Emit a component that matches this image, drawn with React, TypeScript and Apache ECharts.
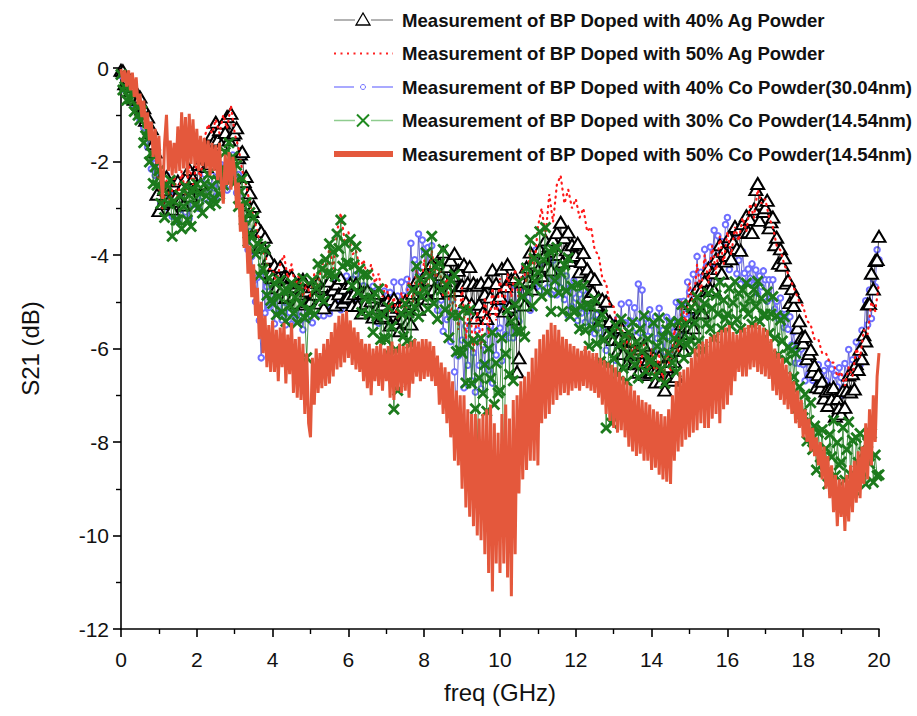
import React, { useEffect, useRef } from "react";
import * as echarts from "echarts";

// Frequency grids of the sweeps (GHz)
const freqFine: number[] = Array.from({ length: 401 }, (_, i) => Math.round(i * 5) / 100); // 0.05 GHz
const freqCoarse: number[] = Array.from({ length: 201 }, (_, i) => Math.round(i * 10) / 100); // 0.1 GHz

// S21 (dB), 40% Ag powder — 0.05 GHz grid, one row per GHz
const ag40: number[] = [
  -0.05, -0.06, -0.34, -0.27, -0.21, -0.49, -0.40, -0.67, -0.51, -0.67, -0.62, -0.88, -0.85, -1.12, -1.05, -1.38, -1.30, -1.62, -1.80, -2.70,
  -3.05, -2.37, -2.90, -2.60, -2.33, -2.86, -2.52, -3.02, -2.51, -2.76, -2.42, -2.85, -2.57, -2.93, -2.37, -2.59, -2.17, -2.74, -2.36, -2.57,
  -2.51, -2.06, -2.48, -2.07, -1.69, -2.11, -1.66, -2.05, -1.43, -1.57, -1.16, -1.54, -1.32, -1.64, -1.18, -1.38, -1.04, -1.54, -0.97, -1.43,
  -1.39, -1.28, -1.92, -1.84, -1.79, -2.43, -2.32, -2.93, -2.67, -3.07, -2.96, -3.47, -3.38, -3.83, -3.50, -3.83, -3.62, -4.25, -4.07, -4.40,
  -4.49, -4.22, -4.70, -4.46, -4.25, -4.73, -4.46, -4.91, -4.49, -4.73, -4.46, -4.87, -4.68, -5.03, -4.60, -4.83, -4.52, -5.05, -4.77, -5.00,
  -4.99, -4.68, -5.12, -4.84, -4.59, -5.03, -4.72, -5.13, -4.67, -4.87, -4.56, -4.95, -4.74, -5.07, -4.62, -4.83, -4.50, -5.01, -4.71, -4.92,
  -4.89, -4.61, -5.08, -4.83, -4.61, -5.08, -4.80, -5.24, -4.81, -5.04, -4.76, -5.17, -4.98, -5.33, -4.90, -5.13, -4.82, -5.35, -5.07, -5.30,
  -5.31, -4.97, -5.50, -5.20, -4.93, -5.46, -5.12, -5.62, -5.11, -5.36, -4.98, -5.44, -5.10, -5.48, -4.82, -5.04, -4.54, -5.16, -4.70, -4.92,
  -4.82, -4.38, -4.94, -4.54, -4.18, -4.74, -4.30, -4.82, -4.18, -4.42, -3.94, -4.55, -4.25, -4.77, -4.11, -4.45, -3.97, -4.76, -4.33, -4.66,
  -4.65, -4.20, -5.00, -4.60, -4.25, -5.05, -4.60, -5.35, -4.65, -5.05, -4.60, -5.22, -4.84, -5.36, -4.58, -4.90, -4.32, -5.14, -4.61, -4.93,
  -4.88, -4.29, -5.20, -4.67, -4.20, -5.11, -4.52, -5.37, -4.48, -6.50, -6.20, -4.99, -4.58, -5.07, -4.26, -4.55, -3.94, -4.73, -4.17, -4.46,
  -4.32, -3.88, -4.44, -4.04, -3.68, -4.24, -3.80, -4.32, -3.68, -3.92, -3.52, -3.99, -3.30, -4.15, -3.63, -3.89, -3.51, -4.12, -3.78, -4.03,
  -4.01, -3.75, -4.36, -4.14, -3.95, -4.56, -4.30, -4.88, -4.45, -4.78, -4.52, -5.07, -4.91, -5.39, -4.95, -5.29, -4.99, -5.68, -5.42, -5.75,
  -5.81, -5.50, -6.06, -5.79, -5.55, -6.11, -5.80, -6.33, -5.85, -6.13, -5.82, -6.31, -6.09, -6.51, -6.01, -6.29, -5.93, -6.56, -6.24, -6.51,
  -6.51, -6.18, -6.72, -6.43, -6.17, -6.71, -6.38, -6.89, -6.39, -6.65, -6.28, -6.68, -6.28, -6.60, -5.88, -6.04, -5.48, -6.04, -5.52, -5.68,
  -5.52, -5.04, -5.56, -5.12, -4.72, -5.24, -4.76, -5.24, -4.56, -4.76, -4.28, -4.73, -4.38, -4.75, -4.08, -4.29, -3.78, -4.39, -3.92, -4.13,
  -4.01, -3.61, -4.08, -3.72, -3.39, -3.86, -3.46, -3.90, -3.33, -3.52, -3.16, -3.50, -3.24, -3.52, -3.02, -2.60, -2.47, -3.26, -2.91, -3.07,
  -2.99, -2.83, -3.42, -3.29, -3.19, -3.78, -3.62, -4.18, -3.87, -4.22, -4.06, -4.60, -4.54, -5.02, -4.72, -5.08, -4.90, -5.56, -5.41, -5.77,
  -5.88, -5.74, -6.22, -6.11, -6.02, -6.50, -6.36, -6.82, -6.56, -6.84, -6.70, -7.06, -6.91, -7.22, -6.87, -7.08, -6.83, -7.45, -7.07, -7.27,
  -7.40, -6.90, -7.26, -6.90, -6.57, -6.93, -6.54, -6.87, -6.33, -6.45, -6.02, -6.22, -5.71, -5.84, -5.05, -5.04, -4.39, -4.73, -4.12, -4.10,
  -3.60,
];

// S21 (dB), 50% Ag powder — 0.1 GHz grid, one row per GHz
const ag50: number[] = [
  -0.1, -0.3, -0.25, -0.55, -0.5, -0.85, -0.85, -1.25, -1.35, -1.8,
  -2.5, -3.0, -2.4, -2.9, -2.3, -2.8, -2.2, -2.7, -2.1, -2.5,
  -2.0, -2.4, -1.5, -1.2, -1.4, -1.1, -1.4, -1.0, -1.3, -0.8,
  -1.4, -1.7, -2.2, -2.5, -2.9, -3.2, -3.5, -3.9, -4.0, -4.3,
  -4.3, -4.6, -4.2, -4.0, -4.5, -4.2, -4.7, -4.4, -4.9, -4.6,
  -4.9, -4.4, -4.7, -4.1, -4.5, -3.8, -4.3, -3.5, -3.1, -3.7,
  -3.5, -4.0, -3.9, -4.3, -4.1, -4.5, -4.2, -4.6, -4.4, -4.9,
  -4.6, -5.2, -4.9, -5.4, -4.8, -5.2, -4.5, -5.0, -4.3, -4.8,
  -4.1, -4.7, -3.9, -4.5, -4.2, -4.9, -4.5, -5.3, -4.8, -5.6,
  -4.7, -5.8, -5.0, -6.1, -5.2, -6.0, -4.9, -5.7, -4.7, -5.4,
  -4.5, -5.2, -4.4, -4.9, -4.3, -5.0, -4.2, -4.6, -3.9, -4.3,
  -3.4, -3.0, -3.6, -2.7, -3.3, -2.5, -2.3, -2.9, -2.6, -3.0,
  -2.8, -3.2, -3.0, -3.5, -3.4, -3.9, -4.0, -4.5, -4.6, -5.1,
  -5.1, -5.6, -5.5, -6.0, -5.7, -6.2, -5.8, -6.4, -5.9, -6.5,
  -6.0, -6.6, -6.1, -6.7, -6.0, -6.5, -5.6, -6.1, -5.0, -5.5,
  -4.6, -5.1, -4.2, -4.8, -4.0, -4.6, -3.8, -4.4, -3.6, -4.2,
  -3.5, -4.0, -3.4, -3.7, -3.2, -3.5, -2.9, -3.2, -2.6, -2.9,
  -2.8, -3.2, -3.4, -3.8, -3.9, -4.2, -4.4, -4.6, -4.8, -5.0,
  -5.1, -5.4, -5.5, -5.8, -5.8, -6.1, -6.1, -6.3, -6.3, -6.6,
  -6.5, -6.8, -6.4, -6.6, -6.0, -6.2, -5.6, -5.7, -5.0, -5.2,
  -4.6,
];

// S21 (dB), 40% Co powder (30.04 nm) — 0.05 GHz grid
const co40: number[] = [
  -0.16, -0.45, -0.22, -0.47, -0.28, -0.67, -0.60, -0.85, -0.62, -0.85, -1.11, -0.94, -1.28, -1.11, -1.69, -1.52, -2.16, -1.93, -2.30, -2.10,
  -2.42, -2.91, -2.36, -2.77, -2.30, -2.99, -2.76, -3.17, -2.62, -2.99, -3.28, -2.81, -3.02, -2.55, -3.08, -2.61, -3.22, -2.67, -2.92, -2.41,
  -2.63, -3.00, -2.45, -2.75, -2.27, -2.81, -2.55, -2.84, -2.30, -2.56, -2.75, -2.32, -2.49, -2.07, -2.52, -2.09, -2.61, -2.12, -2.32, -1.86,
  -2.02, -2.67, -2.28, -2.85, -2.54, -3.39, -3.32, -3.89, -3.50, -4.03, -4.55, -5.00, -4.48, -5.40, -6.20, -4.35, -5.24, -4.68, -5.12, -4.61,
  -5.02, -5.47, -4.88, -5.25, -4.74, -5.39, -5.12, -5.49, -4.90, -5.23, -5.48, -5.04, -5.28, -4.84, -5.40, -4.96, -5.60, -5.08, -5.36, -4.88,
  -5.14, -5.45, -4.98, -5.23, -4.82, -5.28, -5.05, -5.30, -4.83, -5.05, -5.25, -4.83, -5.01, -4.60, -5.06, -4.64, -5.17, -4.69, -4.90, -4.45,
  -4.62, -5.09, -4.52, -4.91, -4.42, -5.09, -4.84, -5.23, -4.66, -5.01, -5.28, -4.85, -5.10, -4.67, -5.24, -4.81, -5.46, -4.95, -5.24, -4.77,
  -5.02, -5.43, -4.80, -5.13, -4.58, -5.19, -4.88, -5.21, -4.58, -4.87, -5.15, -4.52, -4.74, -3.75, -4.73, -4.10, -4.82, -3.55, -4.36, -3.68,
  -3.88, -4.64, -3.84, -4.48, -3.80, -4.86, -4.54, -5.18, -4.38, -4.96, -5.63, -4.74, -5.38, -4.49, -5.85, -4.96, -6.50, -7.40, -6.16, -5.18,
  -5.82, -6.84, -5.52, -6.36, -5.22, -6.69, -6.09, -6.93, -5.61, -6.36, -6.86, -5.92, -6.34, -5.40, -6.46, -5.52, -6.74, -5.64, -6.14, -5.12,
  -5.56, -6.26, -5.14, -5.70, -4.72, -5.77, -5.21, -5.77, -4.65, -5.14, -5.42, -4.69, -4.98, -4.25, -5.02, -4.29, -5.18, -4.33, -4.68, -3.89,
  -4.20, -4.77, -4.04, -4.51, -3.88, -4.70, -4.37, -4.84, -4.11, -4.53, -4.85, -4.35, -4.70, -4.20, -4.95, -4.45, -5.30, -4.70, -5.10, -4.55,
  -4.92, -5.40, -4.84, -5.24, -4.76, -5.44, -5.20, -5.60, -5.04, -5.40, -5.68, -5.28, -5.56, -5.16, -5.76, -5.36, -6.04, -5.56, -5.88, -5.44,
  -5.69, -6.25, -5.37, -5.82, -5.05, -5.88, -5.45, -5.89, -5.02, -5.41, -5.65, -5.13, -5.46, -4.62, -5.67, -4.75, -5.98, -5.36, -5.74, -5.17,
  -5.50, -6.06, -5.32, -5.78, -5.14, -5.95, -5.61, -6.07, -5.33, -5.74, -6.05, -5.42, -5.64, -5.01, -5.63, -5.00, -5.72, -4.99, -5.26, -4.58,
  -4.79, -5.32, -4.41, -4.83, -4.03, -4.83, -4.37, -4.78, -3.88, -4.24, -4.52, -3.83, -4.16, -3.47, -4.28, -3.59, -4.52, -3.71, -4.10, -3.35,
  -3.20, -4.31, -3.62, -4.13, -3.54, -4.40, -4.11, -4.62, -3.93, -4.39, -4.61, -4.30, -4.50, -4.19, -4.63, -4.32, -4.82, -4.45, -4.68, -4.34,
  -4.53, -4.99, -4.53, -4.92, -4.53, -5.16, -4.99, -5.37, -4.92, -5.27, -5.55, -5.27, -5.59, -5.32, -5.92, -5.64, -6.31, -5.97, -6.32, -6.01,
  -6.34, -6.69, -6.26, -6.55, -6.18, -6.68, -6.49, -6.78, -6.35, -6.61, -6.85, -6.47, -6.69, -6.32, -6.82, -6.44, -7.01, -6.57, -6.82, -6.41,
  -6.62, -6.99, -6.32, -6.61, -6.02, -6.59, -6.24, -6.53, -5.86, -6.11, -6.35, -5.61, -5.72, -4.98, -5.49, -4.75, -5.36, -4.52, -4.68, -3.89,
  -4.10,
];

// S21 (dB), 30% Co powder (14.54 nm) — 0.05 GHz grid
const co30: number[] = [
  -0.14, -0.47, -0.40, -0.69, -0.46, -0.67, -0.52, -0.93, -0.80, -1.01, -1.11, -0.92, -1.60, -1.45, -1.33, -2.01, -1.82, -2.47, -2.11, -2.51,
  -2.20, -2.90, -2.60, -3.20, -2.50, -2.90, -2.40, -3.60, -2.85, -3.25, -3.25, -2.72, -3.44, -2.96, -2.53, -3.25, -2.72, -3.39, -2.61, -2.93,
  -2.48, -2.98, -2.68, -3.10, -2.48, -2.74, -2.28, -2.94, -2.52, -2.78, -2.90, -2.40, -2.70, -2.20, -2.50, -1.80, -2.20, -1.60, -2.40, -1.90,
  -2.45, -2.08, -2.96, -2.64, -2.37, -3.25, -2.88, -3.71, -3.09, -3.57, -3.20, -3.98, -3.76, -4.44, -3.82, -4.30, -3.88, -4.86, -4.49, -4.97,
  -5.04, -4.60, -5.28, -4.89, -4.54, -5.22, -4.78, -5.42, -4.76, -5.08, -4.60, -5.25, -4.90, -5.45, -4.70, -5.05, -4.50, -5.35, -6.20, -5.20,
  -5.17, -4.54, -5.28, -4.71, -4.19, -4.93, -4.30, -4.99, -4.09, -4.39, -3.76, -4.40, -3.93, -4.46, -3.55, -3.86, -3.25, -4.24, -3.74, -4.17,
  -4.18, -3.67, -4.66, -4.21, -3.82, -4.81, -4.30, -5.23, -4.42, -4.93, -4.42, -5.27, -4.92, -5.65, -4.82, -5.31, -4.72, -5.81, -5.28, -5.77,
  -5.81, -5.11, -6.16, -5.53, -7.30, -6.02, -6.90, -6.30, -5.25, -5.74, -5.04, -5.84, -5.24, -5.90, -4.74, -5.12, -4.24, -5.32, -4.51, -4.89,
  -4.74, -3.95, -5.16, -4.45, -3.60, -5.03, -4.24, -5.37, -4.18, -4.75, -3.88, -5.17, -4.66, -5.77, -4.54, -5.29, -4.42, -6.07, -5.29, -6.04,
  -6.10, -5.17, -6.74, -5.91, -5.18, -6.75, -5.82, -7.29, -8.10, -6.63, -5.78, -6.96, -6.34, -7.34, -6.00, -6.64, -5.66, -7.20, -6.31, -6.95,
  -6.90, -5.77, -8.90, -6.11, -5.18, -6.55, -5.42, -6.69, -5.06, -5.63, -4.58, -5.63, -4.88, -5.75, -4.28, -4.79, -3.68, -5.09, -4.07, -4.58,
  -4.37, -3.50, -4.88, -4.10, -3.41, -4.79, -3.92, -5.21, -3.89, -4.55, -3.84, -4.81, -4.38, -5.21, -4.22, -4.77, -4.06, -5.31, -4.67, -5.22,
  -5.18, -4.63, -5.58, -5.09, -4.66, -5.61, -5.06, -5.95, -5.10, -5.57, -4.94, -5.90, -5.46, -6.28, -5.28, -5.82, -7.70, -6.34, -5.69, -7.60,
  -6.21, -5.51, -6.56, -5.93, -5.37, -6.42, -5.72, -6.70, -5.65, -6.14, -5.44, -6.35, -5.86, -6.63, -5.58, -6.07, -5.30, -6.49, -5.79, -6.28,
  -6.25, -5.45, -6.60, -5.95, -5.35, -6.45, -5.75, -6.75, -5.60, -6.10, -5.44, -6.31, -5.78, -6.51, -5.42, -5.87, -5.06, -6.21, -5.47, -5.92,
  -5.80, -5.12, -6.06, -5.45, -4.90, -5.84, -5.16, -6.04, -5.04, -5.46, -4.82, -5.58, -5.14, -5.78, -4.86, -5.26, -4.58, -5.58, -4.96, -5.36,
  -5.27, -4.71, -5.52, -5.02, -4.57, -5.38, -4.82, -5.58, -4.75, -5.12, -4.60, -5.26, -4.92, -5.48, -4.74, -5.10, -4.56, -5.42, -4.93, -5.29,
  -5.27, -4.79, -5.68, -5.26, -4.89, -5.78, -5.30, -6.14, -5.39, -5.84, -5.32, -6.25, -5.98, -6.79, -6.04, -6.61, -6.10, -7.27, -6.82, -7.39,
  -7.48, -6.98, -7.98, -7.54, -7.16, -8.16, -7.66, -8.60, -7.80, -8.32, -7.74, -8.64, -8.14, -8.90, -7.84, -8.32, -7.54, -8.72, -8.01, -8.49,
  -8.43, -7.69, -8.82, -8.16, -7.57, -8.70, -7.96, -9.02, -7.91, -8.44, -7.82, -8.62, -8.22, -8.90, -8.02, -8.46, -7.82, -8.86, -8.28, -8.72,
  -8.70,
];

// S21 (dB), 50% Co powder (14.54 nm) — 0.05 GHz grid
const co50: number[] = [
  -0.02, -0.30, -0.05, -0.40, -0.05, -0.48, -0.10, -0.62, -0.20, -0.78, -0.55, -1.05, -0.70, -1.30, -0.95, -1.55, -1.15, -1.90, -1.30, -2.05,
  -1.45, -2.30, -2.80, -1.60, -1.00, -2.20, -1.55, -2.30, -1.60, -2.25, -1.25, -2.20, -0.95, -2.15, -1.05, -2.30, -0.98, -2.05, -1.10, -2.10,
  -1.30, -2.20, -1.45, -2.10, -1.50, -2.15, -1.55, -2.30, -1.60, -2.20, -1.65, -2.40, -1.60, -2.55, -2.90, -1.85, -2.50, -1.80, -2.60, -1.90,
  -2.20, -3.00, -2.45, -3.50, -2.90, -3.85, -3.30, -4.40, -3.80, -4.90, -4.20, -5.30, -4.70, -5.80, -5.00, -6.10, -5.30, -6.40, -5.50, -6.50,
  -5.40, -6.50, -5.60, -6.70, -5.55, -6.40, -5.45, -6.75, -5.70, -6.55, -5.45, -6.95, -5.80, -7.05, -5.75, -7.10, -5.90, -7.40, -6.10, -7.60,
  -7.90, -6.20, -7.20, -6.00, -6.95, -6.10, -6.85, -5.90, -6.80, -5.80, -6.75, -5.65, -6.60, -5.45, -6.45, -5.30, -6.40, -5.25, -6.30, -5.20,
  -6.20, -5.40, -6.35, -5.55, -6.45, -5.65, -6.50, -5.80, -6.70, -5.90, -6.85, -5.90, -7.00, -6.00, -6.70, -5.95, -6.80, -5.90, -6.90, -6.00,
  -6.70, -5.95, -7.05, -5.85, -7.10, -6.00, -6.90, -5.90, -6.95, -5.95, -6.90, -5.90, -7.05, -5.85, -6.75, -5.80, -6.60, -5.85, -6.70, -5.80,
  -6.65, -5.80, -6.60, -5.85, -6.70, -5.95, -6.80, -6.15, -7.20, -6.30, -7.40, -6.40, -7.60, -6.50, -7.90, -6.70, -8.40, -6.90, -8.50, -7.00,
  -9.00, -7.00, -9.40, -7.30, -9.60, -7.40, -9.80, -7.40, -10.00, -7.50, -10.10, -7.40, -10.40, -7.30, -10.80, -7.20, -11.20, -7.60, -10.60, -7.80,
  -10.80, -7.40, -10.60, -7.20, -10.90, -7.50, -11.30, -7.10, -10.40, -7.00, -9.10, -6.70, -8.80, -6.60, -8.60, -6.50, -8.40, -6.20, -8.40, -6.00,
  -8.50, -5.80, -7.60, -5.70, -7.50, -5.60, -7.40, -5.45, -7.20, -5.50, -7.10, -5.60, -7.00, -5.75, -6.95, -5.80, -7.00, -5.90, -6.90, -5.95,
  -6.85, -6.00, -6.90, -6.05, -6.80, -5.95, -6.85, -6.05, -6.90, -6.10, -6.95, -6.10, -7.05, -6.20, -7.20, -6.25, -7.40, -6.30, -7.55, -6.35,
  -7.70, -6.40, -7.80, -6.50, -7.75, -6.60, -7.90, -6.70, -8.10, -6.80, -8.20, -6.90, -8.30, -7.00, -8.25, -7.10, -8.40, -7.15, -8.40, -7.20,
  -8.60, -7.30, -8.55, -7.35, -8.70, -7.40, -8.80, -7.45, -8.85, -7.30, -8.90, -7.00, -8.40, -6.70, -8.20, -6.50, -8.10, -6.45, -7.95, -6.40,
  -7.90, -6.20, -7.80, -6.00, -7.75, -5.90, -7.60, -5.85, -7.70, -5.80, -7.70, -5.75, -7.50, -5.70, -7.40, -5.65, -7.60, -5.60, -7.30, -5.55,
  -7.20, -5.50, -7.00, -5.65, -6.70, -5.70, -6.50, -5.60, -6.60, -5.55, -6.60, -5.50, -6.45, -5.50, -6.40, -5.45, -6.50, -5.50, -6.55, -5.55,
  -6.60, -5.60, -6.65, -5.80, -6.90, -6.00, -7.00, -6.10, -7.10, -6.20, -7.20, -6.35, -7.30, -6.50, -7.40, -6.70, -7.60, -6.90, -7.70, -7.10,
  -7.90, -7.30, -8.00, -7.50, -8.20, -7.70, -8.30, -7.90, -8.50, -8.00, -8.80, -8.10, -9.00, -8.30, -9.20, -8.50, -9.50, -8.70, -9.80, -8.80,
  -9.60, -8.80, -9.90, -8.70, -9.70, -8.50, -9.50, -8.40, -9.30, -8.20, -9.20, -8.10, -8.90, -7.60, -8.80, -7.30, -8.50, -7.00, -8.00, -6.60,
  -6.10,
];

const seriesNames: string[] = [
  "Measurement of BP Doped with 40% Ag Powder",
  "Measurement of BP Doped with 50% Ag Powder",
  "Measurement of BP Doped with 40% Co Powder(30.04nm)",
  "Measurement of BP Doped with 30% Co Powder(14.54nm)",
  "Measurement of BP Doped with 50% Co Powder(14.54nm)",
];

const FONT = '"Liberation Sans", Arial, Helvetica, sans-serif';
// "x" marker drawn as a filled outline so it can be used as a path symbol
const CROSS_SYMBOL =
  "path://M0,2L2,0L6,4L10,0L12,2L8,6L12,10L10,12L6,8L2,12L0,10L4,6Z";

const pair = (xs: number[], ys: number[]) => ys.map((y, i) => [xs[i], y]);

// Legend block: line sample + marker + bold caption per trace
function legendGraphics(): any[] {
  const x0 = 334;
  const x1 = 393;
  const mid = 363;
  const textX = 402;
  const ys = [20, 53.5, 87, 120.5, 154];
  const els: any[] = [];
  els.push({ type: "line", shape: { x1: x0, y1: ys[0], x2: 355, y2: ys[0] }, style: { stroke: "#9a9a9a", lineWidth: 1.5 } });
  els.push({ type: "line", shape: { x1: 371, y1: ys[0], x2: x1, y2: ys[0] }, style: { stroke: "#9a9a9a", lineWidth: 1.5 } });
  els.push({
    type: "polygon",
    shape: { points: [[mid, ys[0] - 7], [mid - 7, ys[0] + 5], [mid + 7, ys[0] + 5]] },
    style: { stroke: "#000", fill: "#fff", lineWidth: 1.3 },
  });
  els.push({ type: "line", shape: { x1: x0, y1: ys[1], x2: x1, y2: ys[1] }, style: { stroke: "#ff2020", lineWidth: 2, lineDash: [2, 4.5] } });
  els.push({ type: "line", shape: { x1: x0, y1: ys[2], x2: 354, y2: ys[2] }, style: { stroke: "#6f6fff", lineWidth: 1.2 } });
  els.push({ type: "line", shape: { x1: 372, y1: ys[2], x2: x1, y2: ys[2] }, style: { stroke: "#6f6fff", lineWidth: 1.2 } });
  els.push({ type: "circle", shape: { cx: mid, cy: ys[2], r: 2.5 }, style: { stroke: "#6f6fff", fill: "#fff", lineWidth: 1 } });
  els.push({ type: "line", shape: { x1: x0, y1: ys[3], x2: 355, y2: ys[3] }, style: { stroke: "#8fcc8f", lineWidth: 1.5 } });
  els.push({ type: "line", shape: { x1: 371, y1: ys[3], x2: x1, y2: ys[3] }, style: { stroke: "#8fcc8f", lineWidth: 1.5 } });
  els.push({ type: "line", shape: { x1: mid - 6, y1: ys[3] - 6, x2: mid + 6, y2: ys[3] + 6 }, style: { stroke: "#1f8a1f", lineWidth: 2 } });
  els.push({ type: "line", shape: { x1: mid + 6, y1: ys[3] - 6, x2: mid - 6, y2: ys[3] + 6 }, style: { stroke: "#1f8a1f", lineWidth: 2 } });
  els.push({ type: "line", shape: { x1: x0, y1: ys[4], x2: x1, y2: ys[4] }, style: { stroke: "#e4583c", lineWidth: 6 } });

  seriesNames.forEach((name, i) => {
    els.push({
      type: "text",
      x: textX,
      y: ys[i],
      style: {
        text: name,
        fill: "#111",
        font: `bold 18.6px ${FONT}`,
        textVerticalAlign: "middle",
        textAlign: "left",
      },
    });
  });
  return els;
}

export default function App() {
  const ref = useRef<HTMLDivElement | null>(null);

  useEffect(() => {
    if (!ref.current) return;
    const chart = echarts.init(ref.current, undefined, { renderer: "svg" });

    const axisCommon = {
      axisLine: { onZero: false, lineStyle: { color: "#000", width: 1.6 } },
      axisTick: { show: true, inside: false, length: 8, lineStyle: { color: "#000", width: 1.6 } },
      minorTick: { show: true, splitNumber: 2, length: 5, lineStyle: { color: "#000", width: 1.4 } },
      splitLine: { show: false },
      minorSplitLine: { show: false },
    };

    chart.setOption({
      animation: false,
      backgroundColor: "#fff",
      grid: { left: 121, right: 38, top: 68, bottom: 87, containLabel: false },
      xAxis: {
        type: "value",
        min: 0,
        max: 20,
        interval: 2,
        ...axisCommon,
        axisLabel: { fontSize: 21, color: "#111", fontFamily: FONT, margin: 20 },
        name: "freq (GHz)",
        nameLocation: "middle",
        nameGap: 51,
        nameTextStyle: { fontSize: 24, color: "#111", fontFamily: FONT },
      },
      yAxis: {
        type: "value",
        min: -12,
        max: 0,
        interval: 2,
        ...axisCommon,
        axisLabel: { fontSize: 21, color: "#111", fontFamily: FONT, margin: 12 },
        name: "S21 (dB)",
        nameLocation: "middle",
        nameGap: 79,
        nameTextStyle: { fontSize: 24, color: "#111", fontFamily: FONT },
      },
      graphic: legendGraphics(),
      series: [
        {
          name: seriesNames[2],
          type: "line",
          data: pair(freqFine, co40),
          symbol: "emptyCircle",
          symbolSize: 5.5,
          showSymbol: true,
          showAllSymbol: true,
          itemStyle: { color: "#6f6fff", borderColor: "#6f6fff", borderWidth: 1 },
          lineStyle: { color: "#2a2ab8", width: 0.7 },
          silent: true,
          z: 2,
        },
        {
          name: seriesNames[0],
          type: "line",
          data: pair(freqFine, ag40),
          symbol: "emptyTriangle",
          symbolSize: [13, 11],
          showSymbol: true,
          showAllSymbol: true,
          itemStyle: { color: "#000", borderColor: "#000", borderWidth: 1 },
          lineStyle: { color: "#000", width: 0.7 },
          silent: true,
          z: 3,
        },
        {
          name: seriesNames[1],
          type: "line",
          data: pair(freqCoarse, ag50),
          symbol: "none",
          showSymbol: false,
          lineStyle: { color: "#ff1a1a", width: 2.2, type: [1, 5], cap: "round" },
          silent: true,
          z: 4,
        },
        {
          name: seriesNames[3],
          type: "line",
          data: pair(freqFine, co30),
          symbol: CROSS_SYMBOL,
          symbolSize: 12,
          showSymbol: true,
          showAllSymbol: true,
          itemStyle: { color: "#1c7a1c" },
          lineStyle: { color: "#1c7a1c", width: 0.8 },
          silent: true,
          z: 5,
        },
        {
          name: seriesNames[4],
          type: "line",
          data: pair(freqFine, co50),
          symbol: "none",
          showSymbol: false,
          lineStyle: { color: "#e4583c", width: 3 },
          silent: true,
          z: 6,
        },
      ],
    });

    return () => {
      chart.dispose();
    };
  }, []);

  return (
    <div
      ref={ref}
      style={{ position: "fixed", left: 0, top: 0, width: 917, height: 716, background: "#fff" }}
    />
  );
}
